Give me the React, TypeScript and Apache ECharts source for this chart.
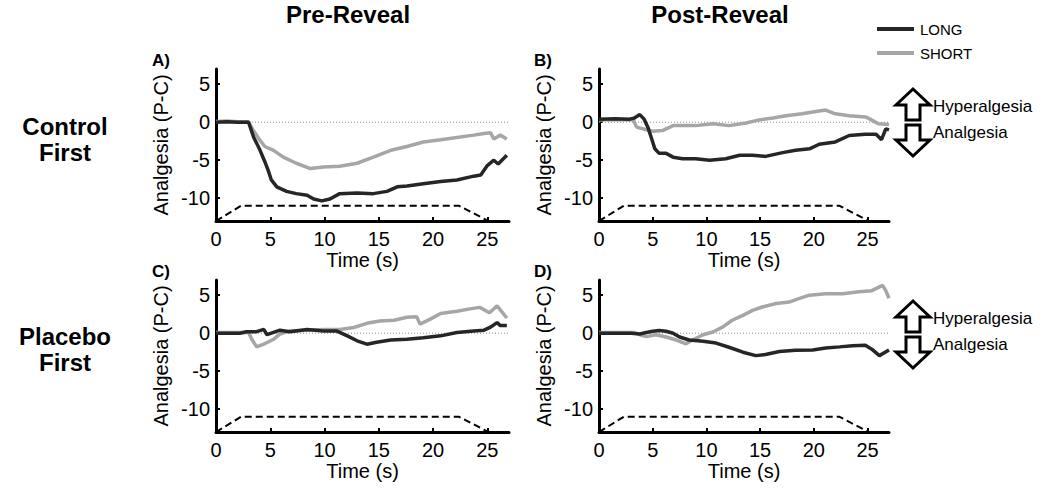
import React, { useEffect, useRef } from "react";
import * as echarts from "echarts";

// ---- Data (time in s, analgesia P-C) ----
const longA: [number, number][] = [[0,0],[1,0.05],[2,0],[3,0],[3.45,-1.9],[4.06,-3.7],[4.5,-5.2],[4.8,-6.3],[5.1,-7.6],[5.6,-8.5],[6.5,-9.1],[7.4,-9.4],[8.4,-9.6],[9.0,-10.1],[9.75,-10.35],[10.5,-10.1],[11.4,-9.4],[13,-9.3],[14.5,-9.4],[15.75,-9.1],[16.7,-8.5],[17.6,-8.4],[19.1,-8.1],[20.7,-7.8],[22.2,-7.6],[23.75,-7.1],[24.4,-6.95],[25,-5.7],[25.6,-5.0],[26.0,-5.5],[26.8,-4.35]];
const shortA: [number, number][] = [[0,0.1],[1,0.15],[2,0.05],[3,0.05],[3.45,-1.1],[4.06,-2.4],[4.5,-3.2],[5.3,-3.7],[6.2,-4.6],[7.4,-5.4],[8.7,-6.1],[9.9,-5.9],[11.4,-5.8],[13,-5.4],[14.5,-4.6],[16.1,-3.7],[17.6,-3.2],[19.1,-2.6],[20.7,-2.3],[22.2,-2.0],[23.75,-1.7],[24.7,-1.5],[25.3,-1.4],[25.6,-2.2],[26.2,-1.7],[26.8,-2.2]];
const longB: [number, number][] = [[0,0.4],[1.5,0.45],[2.85,0.4],[3.3,0.55],[3.8,1.0],[4.2,0.4],[4.55,-0.65],[4.85,-1.95],[5.2,-3.5],[5.6,-4.1],[6.25,-4.1],[6.9,-4.6],[7.8,-4.8],[9.0,-4.8],[10.3,-5.0],[11.8,-4.8],[13.1,-4.35],[14.3,-4.35],[15.5,-4.5],[17.1,-4.0],[18.3,-3.7],[19.6,-3.5],[20.5,-2.9],[22.0,-2.6],[23.3,-1.75],[24.8,-1.6],[25.8,-1.6],[26.3,-2.3],[26.7,-0.87],[27.0,-1.0]];
const shortB: [number, number][] = [[0,0.3],[1.5,0.35],[3.2,0.3],[3.5,-0.65],[4.4,-1.0],[5.0,-1.2],[5.9,-1.1],[6.9,-0.45],[7.8,-0.45],[9.0,-0.45],[10.6,-0.2],[12.1,-0.45],[13.7,-0.1],[14.9,0.3],[16.2,0.55],[17.4,0.85],[18.9,1.1],[20.2,1.4],[21.1,1.6],[22.0,1.1],[23.3,0.85],[24.8,0.7],[25.2,0.44],[26.0,-0.2],[27.0,-0.3]];
const longC: [number, number][] = [[0,0],[2.2,0],[2.8,0.2],[3.75,0.2],[4.4,0.5],[4.7,-0.2],[5.3,0.1],[5.9,0.4],[6.8,0.2],[8.4,0.5],[9.9,0.3],[11.1,0.3],[12.1,-0.35],[13.0,-1.0],[13.9,-1.45],[14.8,-1.2],[16.1,-0.9],[17.6,-0.8],[19.1,-0.6],[20.7,-0.35],[22.2,0.1],[23.75,0.3],[24.7,0.4],[25.3,0.8],[25.9,1.4],[26.2,1.0],[26.8,1.0]];
const shortC: [number, number][] = [[0,0.1],[3.0,0.1],[3.3,-0.8],[3.75,-1.8],[4.4,-1.45],[5.3,-0.8],[5.9,-0.1],[6.8,0.3],[8.4,0.4],[9.9,0.5],[11.4,0.5],[12.7,0.75],[13.9,1.3],[15.1,1.6],[16.4,1.7],[17.6,2.1],[18.5,2.15],[18.8,1.2],[19.75,1.85],[20.7,2.6],[22.2,2.9],[23.4,3.2],[24.3,3.4],[25.2,2.7],[25.9,3.6],[26.8,2.0]];
const longD: [number, number][] = [[0,0],[3.0,0],[3.8,-0.1],[4.4,0.1],[5.0,0.25],[5.6,0.35],[6.25,0.25],[6.9,0],[7.5,-0.5],[8.4,-0.9],[9.7,-1.05],[10.9,-1.3],[12.1,-1.85],[13.4,-2.5],[14.6,-2.95],[15.5,-2.8],[16.8,-2.4],[18.3,-2.25],[19.9,-2.2],[21.1,-1.95],[22.4,-1.8],[23.6,-1.65],[24.8,-1.6],[25.4,-2.1],[26.1,-2.95],[27.0,-2.2]];
const shortD: [number, number][] = [[0,0.1],[3.2,0.1],[3.8,-0.2],[4.4,-0.45],[5.3,-0.2],[6.25,-0.5],[7.2,-0.9],[8.1,-1.4],[8.7,-0.9],[9.7,-0.2],[10.6,0.15],[11.5,0.8],[12.4,1.7],[13.4,2.35],[14.3,3.0],[15.2,3.45],[16.5,3.9],[17.7,4.1],[18.6,4.55],[19.6,5.0],[21.1,5.2],[22.7,5.2],[24.2,5.45],[25.4,5.6],[26.4,6.3],[26.7,5.6],[27.0,4.6]];
const stimulus: [number, number][] = [[0,-13],[2.3,-11],[22.4,-11],[25.1,-13]];
const zeroLine: [number, number][] = [[0,0],[27,0]];

const xTicks = [0, 5, 10, 15, 20, 25];
const yTicks = [-10, -5, 0, 5];
const panelLetters = ["A)", "B)", "C)", "D)"];
const columnTitles = ["Pre-Reveal", "Post-Reveal"];
const rowTitles = [["Control", "First"], ["Placebo", "First"]];
const legendNames = ["LONG", "SHORT"];

const FONT = "'Liberation Sans', Arial, Helvetica, sans-serif";
const LONG_COLOR = "#262626";
const SHORT_COLOR = "#a6a6a6";

const grids = [
  { left: 216, top: 69, width: 293, height: 152 },
  { left: 599, top: 69, width: 290, height: 152 },
  { left: 216, top: 280, width: 293, height: 152 },
  { left: 599, top: 280, width: 290, height: 152 },
];
const panelData = [
  { long: longA, short: shortA },
  { long: longB, short: shortB },
  { long: longC, short: shortC },
  { long: longD, short: shortD },
];

function arrowGroup(dy: number) {
  const up = [[913, 89], [930, 105], [920, 105], [920, 120], [906, 120], [906, 105], [896, 105]].map(([x, y]) => [x, y + dy]);
  const down = [[906, 125], [920, 125], [920, 140], [930, 140], [913, 156], [896, 140], [906, 140]].map(([x, y]) => [x, y + dy]);
  const st = { fill: "#fff", stroke: "#000", lineWidth: 3, lineJoin: "miter" };
  return [
    { type: "polygon", shape: { points: up }, style: st },
    { type: "polygon", shape: { points: down }, style: st },
    { type: "text", x: 933, y: 106 + dy, style: { text: "Hyperalgesia", font: `17px ${FONT}`, fill: "#000", textAlign: "left", textVerticalAlign: "middle" } },
    { type: "text", x: 933, y: 132 + dy, style: { text: "Analgesia", font: `17px ${FONT}`, fill: "#000", textAlign: "left", textVerticalAlign: "middle" } },
  ];
}

export default function App() {
  const ref = useRef<HTMLDivElement>(null);
  useEffect(() => {
    if (!ref.current) return;
    const chart = echarts.init(ref.current, null, { renderer: "svg" });
    const xAxis = grids.map((_, i) => ({
      type: "value", gridIndex: i, min: 0, max: 27,
      axisLine: { show: true, onZero: false, lineStyle: { color: "#000", width: 3 } },
      axisTick: { show: true, inside: true, length: 4, customValues: xTicks, lineStyle: { color: "#000", width: 2 } },
      axisLabel: { customValues: xTicks, fontSize: 20, color: "#000", fontFamily: FONT, margin: 8 },
      splitLine: { show: false },
      name: "Time (s)", nameLocation: "middle", nameGap: 22,
      nameTextStyle: { fontSize: 20, color: "#000", fontFamily: FONT },
    }));
    const yAxis = grids.map((_, i) => ({
      type: "value", gridIndex: i, min: -13, max: 7,
      axisLine: { show: true, onZero: false, lineStyle: { color: "#000", width: 3 } },
      axisTick: { show: true, inside: true, length: 4, customValues: yTicks, lineStyle: { color: "#000", width: 2 } },
      axisLabel: { customValues: yTicks, fontSize: 20, color: "#000", fontFamily: FONT, margin: 6 },
      splitLine: { show: false },
      name: "Analgesia (P-C)", nameLocation: "middle", nameGap: 45,
      nameTextStyle: { fontSize: 20, color: "#000", fontFamily: FONT },
    }));
    const series: any[] = [];
    panelData.forEach((p, i) => {
      series.push({ type: "line", xAxisIndex: i, yAxisIndex: i, data: zeroLine, showSymbol: false, silent: true, z: 1,
        lineStyle: { color: "#8c8c8c", width: 1, type: [1, 2] } });
      series.push({ type: "line", xAxisIndex: i, yAxisIndex: i, data: stimulus, showSymbol: false, silent: true, z: 2,
        lineStyle: { color: "#000", width: 2, type: [7, 4] } });
      series.push({ type: "line", name: "SHORT", xAxisIndex: i, yAxisIndex: i, data: p.short, showSymbol: false, z: 3,
        lineStyle: { color: SHORT_COLOR, width: 3.5 } });
      series.push({ type: "line", name: "LONG", xAxisIndex: i, yAxisIndex: i, data: p.long, showSymbol: false, z: 4,
        lineStyle: { color: LONG_COLOR, width: 3.5 } });
    });
    const letterPos = [[161, 60], [543, 60], [161, 271], [543, 271]];
    const graphic: any[] = [
      ...columnTitles.map((t, i) => ({ type: "text", x: i === 0 ? 348 : 720, y: 14,
        style: { text: t, font: `bold 24px ${FONT}`, fill: "#000", textAlign: "center", textVerticalAlign: "middle" } })),
      ...panelLetters.map((t, i) => ({ type: "text", x: letterPos[i][0], y: letterPos[i][1],
        style: { text: t, font: `bold 17px ${FONT}`, fill: "#000", textAlign: "center", textVerticalAlign: "middle" } })),
      ...rowTitles.flatMap((lines, r) => lines.map((t, k) => ({ type: "text", x: 65, y: 126 + r * 210 + k * 26,
        style: { text: t, font: `bold 24px ${FONT}`, fill: "#000", textAlign: "center", textVerticalAlign: "middle" } }))),
      { type: "line", shape: { x1: 877, y1: 29, x2: 914, y2: 29 }, style: { stroke: LONG_COLOR, lineWidth: 4 } },
      { type: "line", shape: { x1: 877, y1: 53, x2: 914, y2: 53 }, style: { stroke: SHORT_COLOR, lineWidth: 4 } },
      { type: "text", x: 920, y: 29, style: { text: legendNames[0], font: `15px ${FONT}`, fill: "#000", textAlign: "left", textVerticalAlign: "middle" } },
      { type: "text", x: 920, y: 53, style: { text: legendNames[1], font: `15px ${FONT}`, fill: "#000", textAlign: "left", textVerticalAlign: "middle" } },
      ...arrowGroup(0),
      ...arrowGroup(212),
    ];
    chart.setOption({
      animation: false,
      backgroundColor: "#fff",
      grid: grids.map((g) => ({ ...g, containLabel: false })),
      xAxis, yAxis, series, graphic,
    });
    return () => chart.dispose();
  }, []);
  return <div ref={ref} style={{ position: "fixed", left: 0, top: 0, width: 1050, height: 491 }} />;
}
